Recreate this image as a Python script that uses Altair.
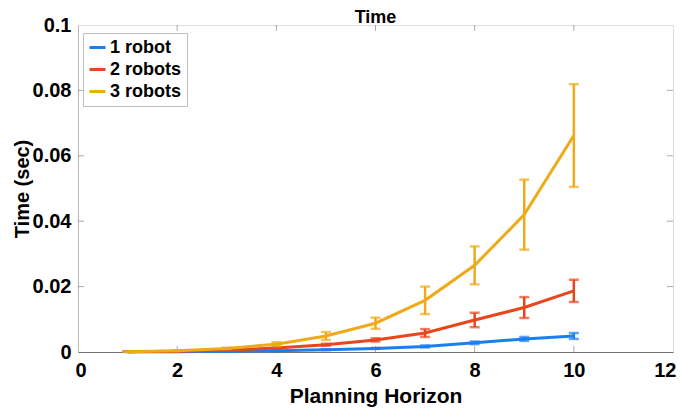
import altair as alt
import pandas as pd

horizon = [1, 2, 3, 4, 5, 6, 7, 8, 9, 10]
series_names = ["1 robot", "2 robots", "3 robots"]
colors = ["#1a7ff0", "#e8461c", "#eeaa1a"]

mean_1 = [0.00005, 0.0001, 0.0002, 0.0004, 0.0007, 0.0011, 0.0017, 0.0028, 0.0040, 0.0049]
err_1 = [0.00002, 0.00003, 0.00005, 0.0001, 0.0001, 0.00015, 0.0003, 0.0004, 0.0006, 0.0009]
mean_2 = [0.0001, 0.0002, 0.0006, 0.0012, 0.0022, 0.0037, 0.0058, 0.0098, 0.0136, 0.0187]
err_2 = [0.00003, 0.00005, 0.0001, 0.0002, 0.0003, 0.0005, 0.0012, 0.0022, 0.0032, 0.0034]
mean_3 = [0.0001, 0.0004, 0.0011, 0.0024, 0.0049, 0.0088, 0.0158, 0.0265, 0.0420, 0.0662]
err_3 = [0.00003, 0.0001, 0.0002, 0.0006, 0.0012, 0.0017, 0.0042, 0.0058, 0.0107, 0.0157]

x_ticks = [0, 2, 4, 6, 8, 10, 12]
y_ticks = [0, 0.02, 0.04, 0.06, 0.08, 0.1]

rows = []
for name, means, errs in zip(series_names, [mean_1, mean_2, mean_3], [err_1, err_2, err_3]):
    for h, m, e in zip(horizon, means, errs):
        rows.append({"horizon": h, "series": name, "mean": m, "lo": m - e, "hi": m + e})
df = pd.DataFrame(rows)

FONT = "Liberation Sans"
W, H = 595, 327

xs = alt.Scale(domain=[0, 12], nice=False, zero=False)
ys = alt.Scale(domain=[0, 0.1], nice=False)
cs = alt.Scale(domain=series_names, range=colors)

base = alt.Chart(df)

lines = base.mark_line(strokeWidth=3).encode(
    x=alt.X("horizon:Q", scale=xs, axis=alt.Axis(
        values=x_ticks, title="Planning Horizon", ticks=False, domainColor="#707070",
        labelFlush=True, labelFlushOffset=3, labelFontSize=20, labelFont=FONT,
        labelFontWeight="bold", labelColor="#000", labelPadding=8, titleFontSize=21,
        titleFont=FONT, titleFontWeight="bold", titleColor="#000", titlePadding=5,
        grid=False)),
    y=alt.Y("mean:Q", scale=ys, axis=alt.Axis(
        values=y_ticks, format="~g", title="Time (sec)", ticks=False, domainColor="#b8b8b8",
        labelFlush=False, labelFontSize=20, labelFont=FONT, labelFontWeight="bold",
        labelColor="#000", labelPadding=7, titleFontSize=20, titleFont=FONT,
        titleFontWeight="bold", titleColor="#000", titlePadding=0, grid=False)),
    color=alt.Color("series:N", scale=cs, legend=alt.Legend(
        title=None, orient="none", legendX=5, legendY=8, symbolType="stroke",
        symbolSize=256, symbolStrokeWidth=3, labelFontSize=18, labelFont=FONT,
        labelFontWeight="bold", labelColor="#000", strokeColor="#c0c0c0",
        fillColor="white", padding=5, rowPadding=3, labelOffset=3)),
    detail="series:N",
)

bars = base.mark_rule(strokeWidth=2.5).encode(
    x=alt.X("horizon:Q", scale=xs), y=alt.Y("lo:Q", scale=ys), y2="hi:Q",
    color=alt.Color("series:N", scale=cs, legend=None),
)
caps_lo = base.mark_tick(thickness=2.5, size=10, orient="horizontal").encode(
    x=alt.X("horizon:Q", scale=xs), y=alt.Y("lo:Q", scale=ys),
    color=alt.Color("series:N", scale=cs, legend=None),
)
caps_hi = base.mark_tick(thickness=2.5, size=10, orient="horizontal").encode(
    x=alt.X("horizon:Q", scale=xs), y=alt.Y("hi:Q", scale=ys),
    color=alt.Color("series:N", scale=cs, legend=None),
)

layers = []
for name in series_names:
    f = alt.datum.series == name
    layers += [lines.transform_filter(f), bars.transform_filter(f),
               caps_lo.transform_filter(f), caps_hi.transform_filter(f)]

xt = pd.DataFrame({"v": x_ticks[1:-1]})
yt = pd.DataFrame({"v": y_ticks[1:-1]})
tick_color = "#888888"
tb = alt.Chart(xt).mark_tick(orient="vertical", size=6, thickness=1, color=tick_color, yOffset=-3).encode(
    x=alt.X("v:Q", scale=xs), y=alt.datum(0, scale=ys))
tt = alt.Chart(xt).mark_tick(orient="vertical", size=6, thickness=1, color=tick_color, yOffset=3).encode(
    x=alt.X("v:Q", scale=xs), y=alt.datum(0.1, scale=ys))
tl = alt.Chart(yt).mark_tick(orient="horizontal", size=6, thickness=1, color=tick_color, xOffset=3).encode(
    y=alt.Y("v:Q", scale=ys), x=alt.datum(0, scale=xs))
tr = alt.Chart(yt).mark_tick(orient="horizontal", size=6, thickness=1, color=tick_color, xOffset=-3).encode(
    y=alt.Y("v:Q", scale=ys), x=alt.datum(12, scale=xs))

chart = alt.layer(tb, tt, tl, tr, *layers).properties(
    width=W, height=H,
    title=alt.TitleParams("Time", fontSize=18, font=FONT, fontWeight="bold", color="#000", offset=-12),
    autosize=alt.AutoSizeParams(type="none"),
    padding={"left": 70, "top": 17, "right": 4, "bottom": 56},
).configure_view(stroke="#c4c4c4", strokeWidth=1).configure(background="white")

chart.save("out.html", embed_options={"renderer": "svg", "actions": False})
